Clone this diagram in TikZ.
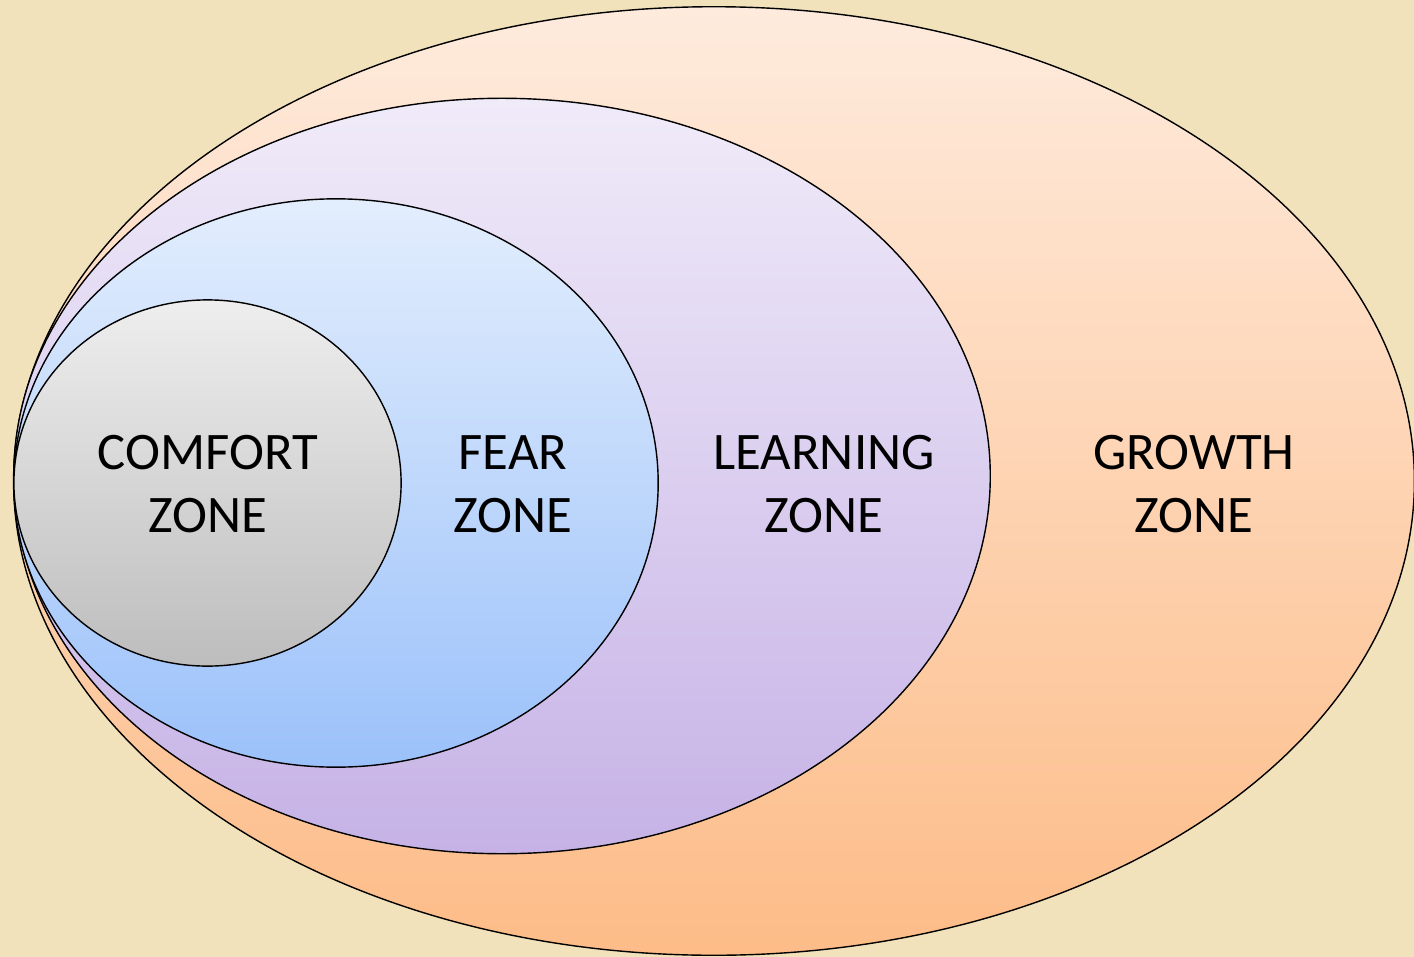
\documentclass[tikz,border=0pt]{standalone}
\usepackage{fontspec}
\setmainfont{Carlito}
\usetikzlibrary{shapes.geometric, positioning}

\definecolor{parchment}{HTML}{F1E2BC}
\definecolor{growthtop}{HTML}{FEEBDD}
\definecolor{growthbot}{HTML}{FDBC88}
\definecolor{learntop}{HTML}{F0EBF9}
\definecolor{learnbot}{HTML}{C6B2E6}
\definecolor{feartop}{HTML}{E3EEFD}
\definecolor{fearbot}{HTML}{9BC1FA}
\definecolor{comforttop}{HTML}{EEEEEE}
\definecolor{comfortbot}{HTML}{BDBDBD}

\begin{document}
\begin{tikzpicture}[
    x=0.01cm, y=-0.01cm,
    zone/.style={ellipse, draw=black, line width=0.4pt, inner sep=0pt},
    zonetext/.style={align=center, text=black, inner sep=0pt,
        font=\fontsize{15}{18}\selectfont},
]
    % background
    \fill[parchment] (0,0) rectangle (1414,957);
    \useasboundingbox (0,0) rectangle (1414,957);

    \node[zone, minimum width=14cm, minimum height=9.48cm,
        top color=growthtop, bottom color=growthbot] (growth) at (714,481) {};
    \node[zone, minimum width=9.76cm, minimum height=7.55cm,
        top color=learntop, bottom color=learnbot] (learning) at (502,476) {};
    \node[zone, minimum width=6.44cm, minimum height=5.68cm,
        top color=feartop, bottom color=fearbot] (fear) at (336,483) {};
    \node[zone, minimum width=3.87cm, minimum height=3.66cm,
        top color=comforttop, bottom color=comfortbot] (comfort) at (207.5,483) {};

    \node[zonetext] (comforttxt) at (208,484) {COMFORT\\ZONE};
    \node[zonetext] (feartxt) at (513,484) {FEAR\\ZONE};
    \node[zonetext] (learningtxt) at (824,484) {LEARNING\\ZONE};
    \node[zonetext] (growthtxt) at (1194,484) {GROWTH\\ZONE};
\end{tikzpicture}
\end{document}
